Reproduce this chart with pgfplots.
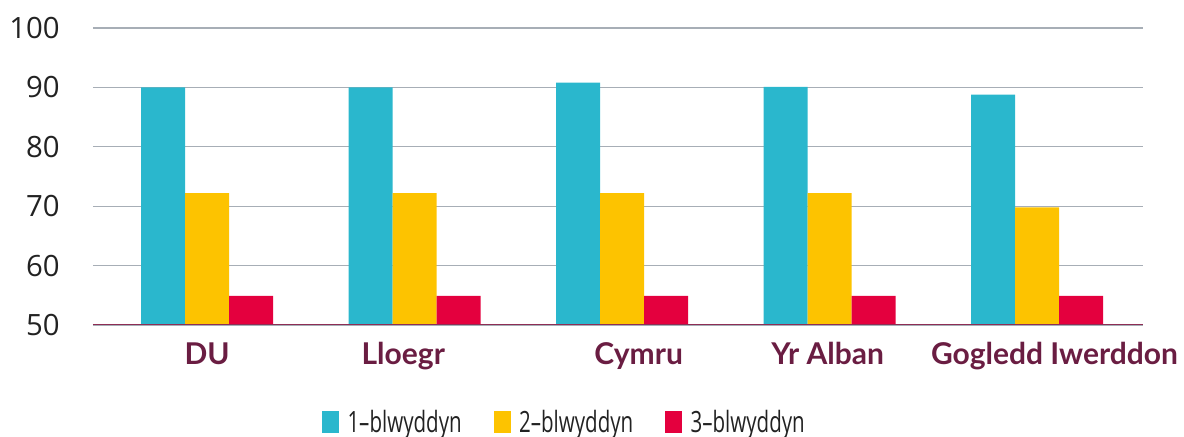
\documentclass[border=0pt]{standalone}
\usepackage{fontspec}
\setmainfont{Open Sans}
\newfontfamily\catfont{Lato}
\newfontfamily\legfont[FakeStretch=0.70]{Open Sans}
\usepackage{pgfplots}
\pgfplotsset{compat=1.18}
\definecolor{cteal}{HTML}{2AB7CD}
\definecolor{cyellow}{HTML}{FDC300}
\definecolor{cred}{HTML}{E4003E}
\definecolor{cmaroon}{HTML}{6A1D42}
\definecolor{caxis}{HTML}{8E2E55}
\definecolor{cgrid}{HTML}{A7AEB6}
\definecolor{ctext}{HTML}{222222}
\newcommand{\sh}[2]{\makebox[0pt]{\hspace*{#1}#2}}
\begin{document}
\begin{tikzpicture}
\begin{axis}[name=ax, scale only axis, width=787.5pt, height=222.75pt,
  ybar=0pt, bar width=33pt,
  xmin=-0.55, xmax=4.51, ymin=50, ymax=100,
  ytick={50,60,...,100}, xtick={0,...,4},
  xticklabels={\sh{0pt}{DU},\sh{-17pt}{Lloegr},\sh{24.8pt}{Cymru},\sh{-3pt}{Yr Alban},\sh{26pt}{Gogledd Iwerddon}},
  axis line style={draw=none}, major tick length=0pt,
  ymajorgrids, grid style={cgrid, line width=0.9pt},
  /pgf/number format/assume math mode=true,
  yticklabel style={font=\fontsize{22}{22}\selectfont, text=ctext, inner sep=0pt, anchor=east, xshift=-24.75pt},
  xticklabel style={font=\catfont\bfseries\fontsize{22.5}{22.5}\selectfont, text=cmaroon, inner sep=0pt, anchor=base, yshift=-30pt},
  legend columns=3,
  legend style={draw=none, fill=none, at={(0.218,-0.327)}, anchor=west, inner sep=0pt,
    font=\legfont\fontsize{22}{22}\selectfont, text=ctext,
    /tikz/every even column/.append style={column sep=22pt}},
]
\addplot[fill=cteal, draw=none, legend image code/.code={\fill[cteal] (0pt,-8pt) rectangle (12.75pt,8pt); \path (17pt,0pt);}] coordinates {(0,90.0) (1,90.0) (2,90.8) (3,90.1) (4,88.8)};
\addplot[fill=cyellow, draw=none, legend image code/.code={\fill[cyellow] (0pt,-8pt) rectangle (12.75pt,8pt); \path (17pt,0pt);}] coordinates {(0,72.2) (1,72.2) (2,72.2) (3,72.2) (4,69.8)};
\addplot[fill=cred, draw=none, legend image code/.code={\fill[cred] (0pt,-8pt) rectangle (12.75pt,8pt); \path (17pt,0pt);}] coordinates {(0,54.9) (1,54.9) (2,54.9) (3,54.9) (4,54.9)};
\legend{1–blwyddyn, 2–blwyddyn, 3–blwyddyn}
\draw[caxis, line width=1.2pt] (rel axis cs:0,0) -- (rel axis cs:1,0);
\end{axis}
\pgfresetboundingbox
\path ([shift={(-69.75pt,-84pt)}]ax.south west) rectangle ([shift={(30.75pt,21pt)}]ax.north east);
\end{tikzpicture}
\end{document}
